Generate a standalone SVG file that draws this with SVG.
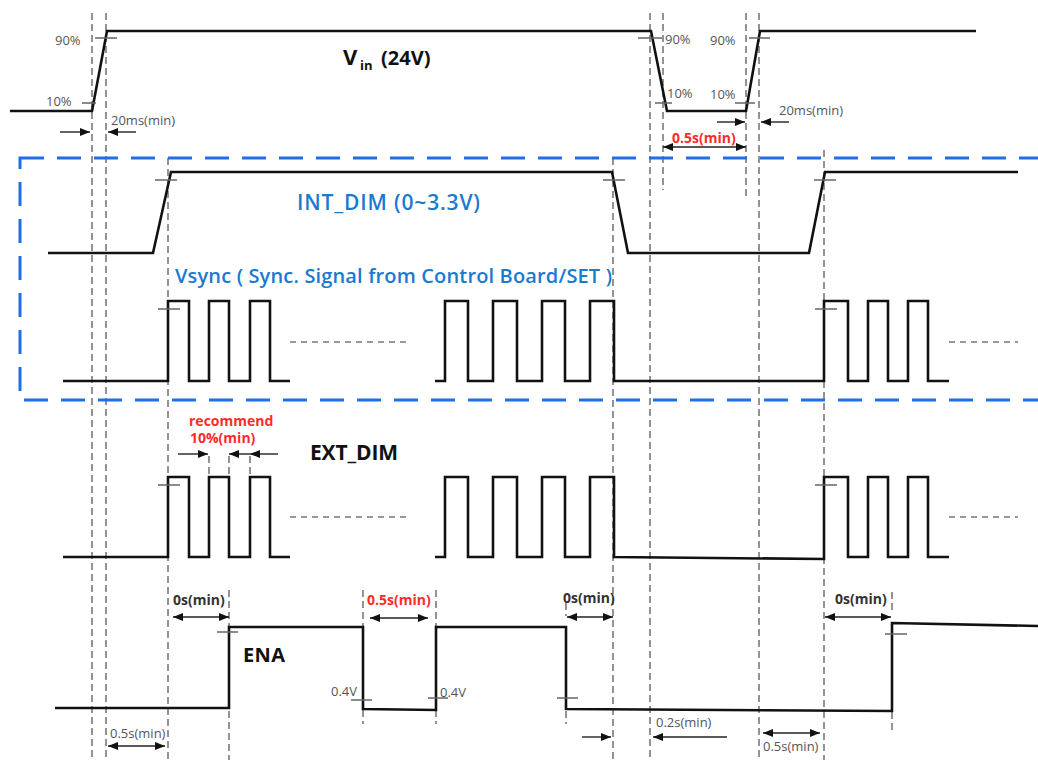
<svg xmlns="http://www.w3.org/2000/svg" width="1038" height="760" viewBox="0 0 1038 760">
<style>
.wave{fill:none;stroke:#111;stroke-width:2.6;stroke-linejoin:miter}
.guide{fill:none;stroke:#666;stroke-width:1.4;stroke-dasharray:7,4}
.tick{fill:none;stroke:#666;stroke-width:1.3}
.dots{fill:none;stroke:#777;stroke-width:1.4;stroke-dasharray:6,5}
.arr{fill:none;stroke:#222;stroke-width:1.4}
.box{fill:none;stroke:#1f6fe8;stroke-width:3;stroke-dasharray:24,13}
.g{font-family:"Open Sans","Liberation Sans",sans-serif;font-size:13px;fill:#555}
.b{font-family:"Open Sans","Liberation Sans",sans-serif;font-size:14px;font-weight:bold;fill:#333}
.r{font-family:"Open Sans","Liberation Sans",sans-serif;font-size:14px;font-weight:bold;fill:#ff2b2b}
.blue{font-family:"Open Sans","Liberation Sans",sans-serif;font-weight:600;fill:#1a7ad0}
.big{font-family:"Open Sans","Liberation Sans",sans-serif;font-weight:bold;fill:#111}
</style>
<defs>
<marker id="ah" viewBox="0 0 10 8" refX="10" refY="4" markerWidth="10" markerHeight="8" markerUnits="userSpaceOnUse" orient="auto-start-reverse">
<path d="M0,0 L10,4 L0,8 Z" fill="#111"/>
</marker>
</defs>

<g id="guides">
<path class="guide" d="M92,13 V760 M106,13 V760 M168,158 V760 M229,590 V760 M613,158 V760 M650,13 V760 M663,13 V190 M746,13 V198 M759,13 V760 M824,150 V760"/>
<path class="guide" d="M363,590 V627 M363,710 V724 M436,590 V627 M436,710 V724 M566,603 V616 M566,711 V724 M892,592 V614 M892,712 V730"/>
<path class="guide" d="M209,456 V477 M229,456 V477 M250,456 V477"/>
</g>

<g id="interface-box">
<rect class="box" x="20" y="158" width="1040" height="242"/>
</g>

<g id="vin">
<path class="wave" d="M10,111 H92 L107,31 H651 L667,111 H746 L760,31 H976"/>
<path class="tick" d="M95,38 H117 M82,103 H96 M638,38 H662 M655,103 H672 M735,103 H755 M749,38 H770"/>
<text class="g" x="55" y="45">90%</text>
<text class="g" x="46" y="106">10%</text>
<text class="g" x="665" y="44">90%</text>
<text class="g" x="710" y="45">90%</text>
<text class="g" x="667" y="98">10%</text>
<text class="g" x="710" y="99">10%</text>
<text class="g" x="111" y="125">20ms(min)</text>
<text class="g" x="779" y="115">20ms(min)</text>
<text class="big" x="343" y="65" font-size="22">V</text>
<text class="big" x="360" y="70" font-size="13">in</text>
<text class="big" x="381" y="65" font-size="20">(24V)</text>
<text class="r" x="672" y="143">0.5s(min)</text>
</g>

<g id="int-dim">
<path class="wave" d="M48,253 H153 L171,172 H612 L628,253 H809 L825,172 H1018"/>
<path class="tick" d="M155,180 H177 M603,180 H625 M814,180 H836"/>
<text class="blue" x="297" y="210" font-size="21" textLength="183">INT_DIM (0~3.3V)</text>
</g>

<g id="vsync">
<path class="wave" d="M63,381 H168 V301 H189 V381 H209 V301 H229 V381 H250 V301 H270 V381 H290"/>
<path class="wave" d="M435,381 H445 V301 H468 V381 H493 V301 H517 V381 H542 V301 H565 V381 H590 V301 H614 V381 H824 V301 H848 V381 H868 V301 H888 V381 H908 V301 H928 V381 H949"/>
<path class="dots" d="M290,342 H408 M949,342 H1018"/>
<path class="tick" d="M158,309 H180 M815,309 H837"/>
<text class="blue" x="175" y="283" font-size="20" textLength="437">Vsync ( Sync. Signal from Control Board/SET )</text>
</g>

<g id="ext-dim">
<path class="wave" d="M63,557 H168 V477 H189 V557 H209 V477 H229 V557 H250 V477 H270 V557 H290"/>
<path class="wave" d="M435,557 H445 V477 H468 V557 H493 V477 H517 V557 H542 V477 H565 V557 H590 V477 H614 V557 L824,559 V477 H848 V557 H868 V477 H888 V557 H908 V477 H928 V557 H949"/>
<path class="dots" d="M290,517 H408 M949,517 H1018"/>
<path class="tick" d="M158,485 H180 M815,485 H837"/>
<text class="big" x="310" y="460" font-size="21" textLength="88">EXT_DIM</text>
<text class="r" x="189" y="426">recommend</text>
<text class="r" x="190" y="443">10%(min)</text>
</g>

<g id="ena">
<path class="wave" d="M55,708 H229 V627 H363 V709 L436,710 V627 H566 V709 L892,711 V623 L1038,626"/>
<path class="tick" d="M217,632 H238 M351,700 H372 M428,698 H448 M557,698 H578 M885,634 H907"/>
<text class="big" x="243" y="662" font-size="20" textLength="42">ENA</text>
<text class="g" x="331" y="696">0.4V</text>
<text class="g" x="440" y="697">0.4V</text>
<text class="b" x="173" y="605">0s(min)</text>
<text class="r" x="367" y="605">0.5s(min)</text>
<text class="b" x="563" y="603">0s(min)</text>
<text class="b" x="835" y="604">0s(min)</text>
<text class="g" x="110" y="738">0.5s(min)</text>
<text class="g" x="656" y="727">0.2s(min)</text>
<text class="g" x="763" y="751">0.5s(min)</text>
</g>

<g id="connectors">
<path class="arr" d="M60,132 H90" marker-end="url(#ah)"/>
<path class="arr" d="M136,132 H108" marker-end="url(#ah)"/>
<path class="arr" d="M717,122 H745" marker-end="url(#ah)"/>
<path class="arr" d="M789,122 H761" marker-end="url(#ah)"/>
<path class="arr" d="M663,147 H746" marker-start="url(#ah)" marker-end="url(#ah)"/>
<path class="arr" d="M178,454 H208" marker-end="url(#ah)"/>
<path class="arr" d="M278,454 H250" marker-end="url(#ah)"/>
<path class="arr" d="M250,454 H229" marker-end="url(#ah)"/>
<path class="arr" d="M173,617 H229" marker-start="url(#ah)" marker-end="url(#ah)"/>
<path class="arr" d="M370,618 H428" marker-start="url(#ah)" marker-end="url(#ah)"/>
<path class="arr" d="M567,617 H613" marker-start="url(#ah)" marker-end="url(#ah)"/>
<path class="arr" d="M825,617 H891" marker-start="url(#ah)" marker-end="url(#ah)"/>
<path class="arr" d="M108,746 H165" marker-start="url(#ah)" marker-end="url(#ah)"/>
<path class="arr" d="M582,737 H611" marker-end="url(#ah)"/>
<path class="arr" d="M727,737 H653" marker-end="url(#ah)"/>
<path class="arr" d="M763,733 H820" marker-start="url(#ah)" marker-end="url(#ah)"/>
</g>
</svg>
